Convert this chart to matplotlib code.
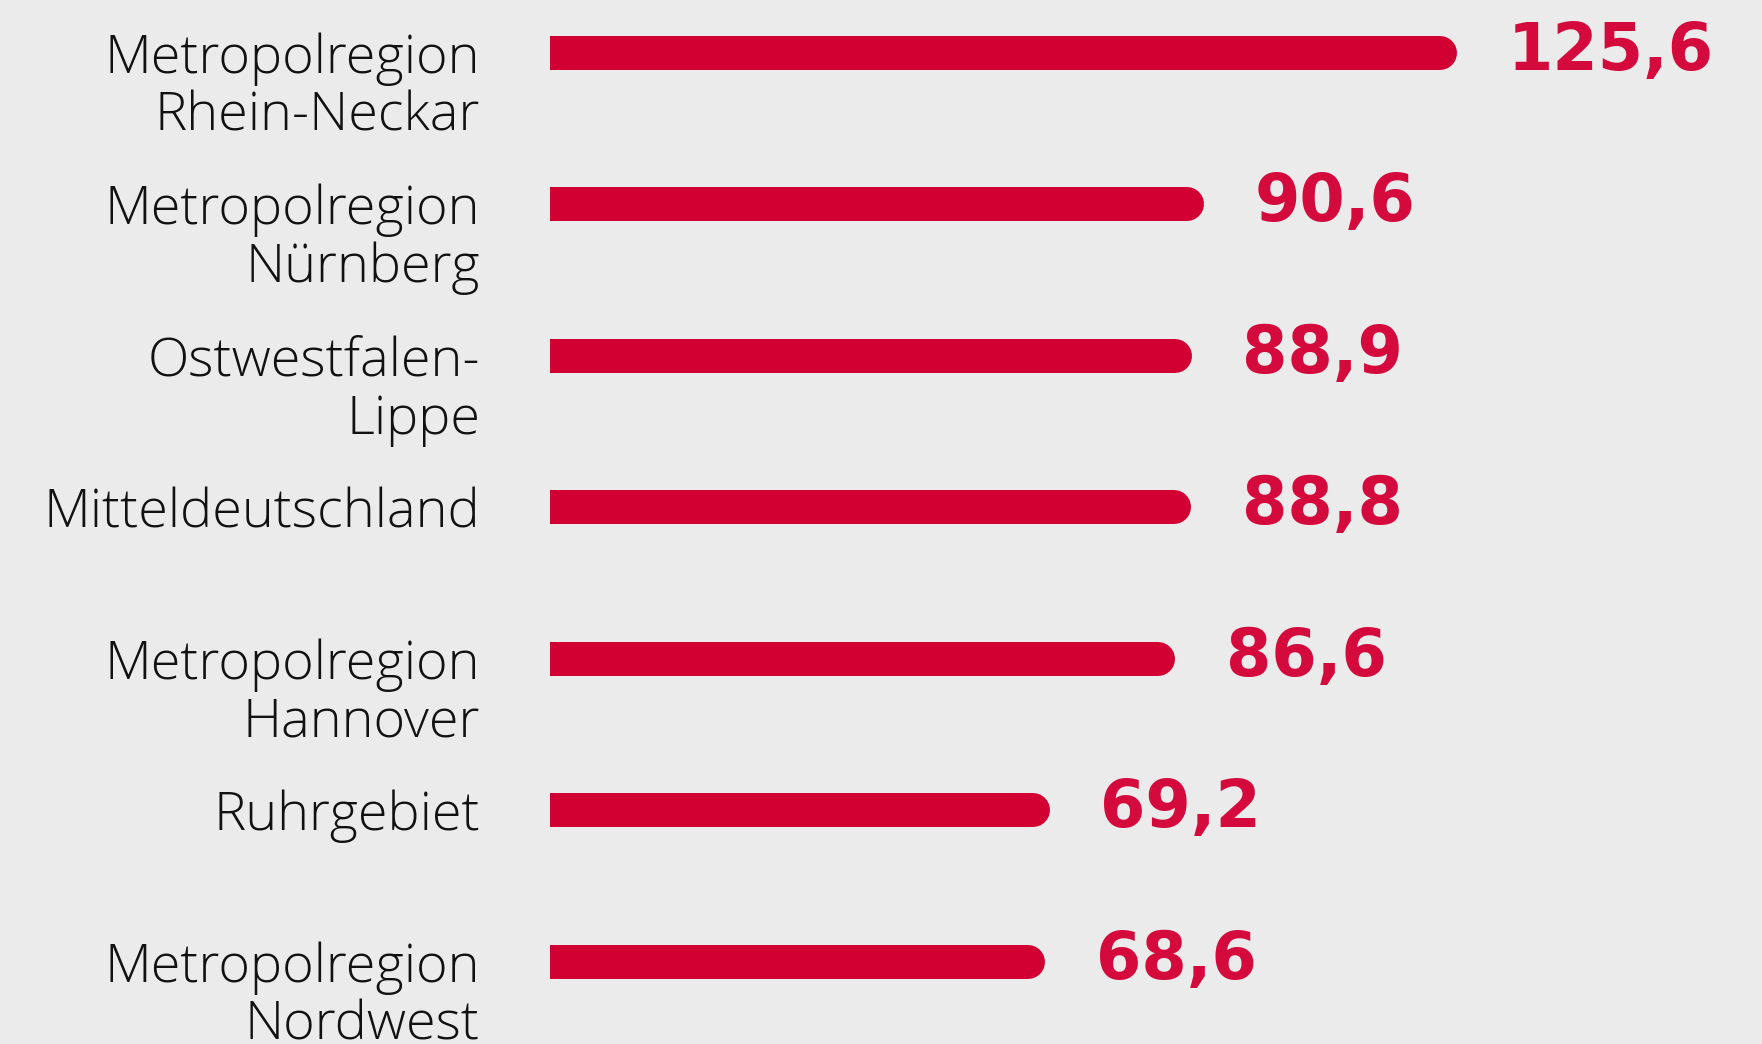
import numpy as np
import matplotlib
matplotlib.use("Agg")
import matplotlib.pyplot as plt

# data
regions = ["Metropolregion\nRhein-Neckar", "Metropolregion\nNürnberg", "Ostwestfalen-\nLippe",
           "Mitteldeutschland", "Metropolregion\nHannover", "Ruhrgebiet", "Metropolregion\nNordwest"]
values = [125.6, 90.6, 88.9, 88.8, 86.6, 69.2, 68.6]
value_labels = ["125,6", "90,6", "88,9", "88,8", "86,6", "69,2", "68,6"]

# layout (pixels in a 1762x1044 figure)
W, H, DPI = 1762, 1044, 100
px_per_unit = 7.22       # x scale
row_px = 151.5           # row spacing
x0_px, y0_px = 550, 52.8  # bar start and first row centre
bar_px = 34

bar_color = "#d20032"
text_color = "#d40a3c"
bg = "#ebebeb"

fig = plt.figure(figsize=(W / DPI, H / DPI), dpi=DPI)
fig.patch.set_facecolor(bg)
ax = fig.add_axes([0, 0, 1, 1])
ax.set_facecolor(bg)
ax.set_xlim(-x0_px / px_per_unit, (W - x0_px) / px_per_unit)
ax.set_ylim((H - y0_px) / row_px, -y0_px / row_px)
ax.axis("off")

r = bar_px / 2 / px_per_unit           # cap radius in data units
bh = bar_px / row_px                   # bar height in data units
lw_pt = bar_px * 72 / DPI

for i, (name, v, lab) in enumerate(zip(regions, values, value_labels)):
    # flat left end, rounded right end
    ax.barh(i, v - r, left=0, height=bh, color=bar_color, lw=0)
    ax.plot([r, v - r], [i, i], color=bar_color, lw=lw_pt, solid_capstyle="round")

    ax.text(v + 7.0, i + 17 / row_px, lab, ha="left", va="baseline",
            fontsize=47, fontweight="bold", color=text_color, family=["DejaVu Sans"])

    for k, line in enumerate(name.split("\n")):
        ax.text(-70 / px_per_unit, i + (20 + 58 * k) / row_px, line, ha="right", va="baseline",
                fontsize=39, fontweight="light", color="#111111", family=["Open Sans", "DejaVu Sans"])

fig.savefig("out.png", dpi=DPI, facecolor=bg)
